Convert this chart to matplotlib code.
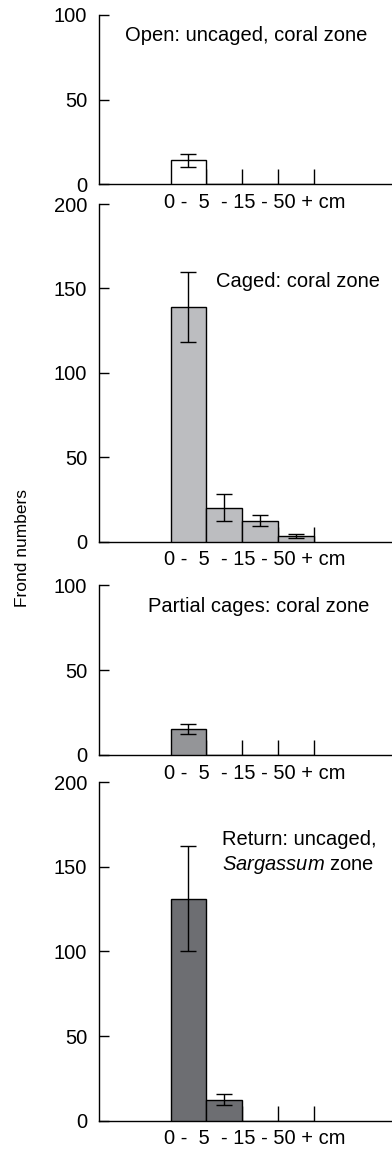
import numpy as np
import matplotlib
matplotlib.use("Agg")
import matplotlib.pyplot as plt

plt.rcParams['font.family'] = ['Liberation Sans', 'DejaVu Sans']
plt.rcParams['mathtext.fontset'] = 'custom'
plt.rcParams['mathtext.rm'] = 'Liberation Sans'
plt.rcParams['mathtext.it'] = 'Liberation Sans:italic'

# frond size classes (cm)
size_classes = ["0-5", "5-15", "15-50", "50+"]
size_label = "0 -  5  - 15 - 50 + cm"

open_mean = [14, 0, 0, 0]
open_err = [4, 0, 0, 0]
caged_mean = [139, 20, 12.5, 3.5]
caged_err = [20.5, 8, 3.3, 1.3]
partial_mean = [15.5, 0, 0, 0]
partial_err = [3, 0, 0, 0]
return_mean = [131, 12.5, 0, 0]
return_err = [31, 3.2, 0, 0]

titles = ["Open: uncaged, coral zone", "Caged: coral zone",
          "Partial cages: coral zone", None]
ymax = [100, 200, 100, 200]
colors = ['white', '#bcbdc0', '#949598', '#6d6e72']

W, H = 392, 1151
fig = plt.figure(figsize=(W / 100, H / 100), dpi=100)

# axes boxes in pixels: (top, bottom)
boxes = [(15, 184), (204, 541.7), (585, 755), (782, 1120.7)]
left_px = 99

means = [open_mean, caged_mean, partial_mean, return_mean]
errs = [open_err, caged_err, partial_err, return_err]
# title anchor (x in bar units, y in data units)
title_pos = [(-1.28, 88), (1.28, 154), (-0.64, 87.6), (1.44, 166)]

x = np.arange(len(size_classes))
for k in range(4):
    top, bot = boxes[k]
    ax = fig.add_axes([left_px / W, 1 - bot / H, (W - left_px) / W + 0.01, (bot - top) / H])
    m = np.array(means[k], dtype=float)
    e = np.array(errs[k], dtype=float)
    ax.bar(x, m, width=1.0, align='edge', color=colors[k], edgecolor='black',
           linewidth=1.0, zorder=3)
    nz = m > 0
    ax.errorbar(x[nz] + 0.5, m[nz], yerr=e[nz], fmt='none', ecolor='black',
                elinewidth=1.0, capsize=5.8, capthick=1.0, zorder=4)
    ax.set_xlim(-2.0, 6.3)
    ax.set_ylim(0, ymax[k])
    ax.set_yticks(np.arange(0, ymax[k] + 1, 50))
    ax.set_xticks([1, 2, 3, 4])
    ax.set_xticklabels([])
    ax.tick_params(axis='x', direction='in', length=10.8, width=1.0)
    ax.tick_params(axis='y', direction='in', length=7.2, width=1.0, pad=8.5,
                   labelsize=14.5)
    for s in ['top', 'right']:
        ax.spines[s].set_visible(False)
    for s in ['left', 'bottom']:
        ax.spines[s].set_linewidth(1.0)
    ax.patch.set_visible(False)
    ax.annotate(size_label, xy=(2.36, 0), xycoords=('data', 'axes fraction'),
                xytext=(0, -13), textcoords='offset points', ha='center',
                va='center', fontsize=14.5, annotation_clip=False)
    tx, ty = title_pos[k]
    if titles[k] is not None:
        ax.text(tx, ty, titles[k], fontsize=14.5, ha='left', va='center')
    else:
        ax.text(tx, ty, "Return: uncaged,", fontsize=14.5, ha='left', va='center')
        ax.text(tx, ty - 15, "$\\mathit{Sargassum}$ zone", fontsize=14.5,
                ha='left', va='center')

fig.text(23 / W, 1 - 548 / H, "Frond numbers", rotation=90, ha='center',
         va='center', fontsize=12.5)

fig.savefig("out.png", dpi=100)
